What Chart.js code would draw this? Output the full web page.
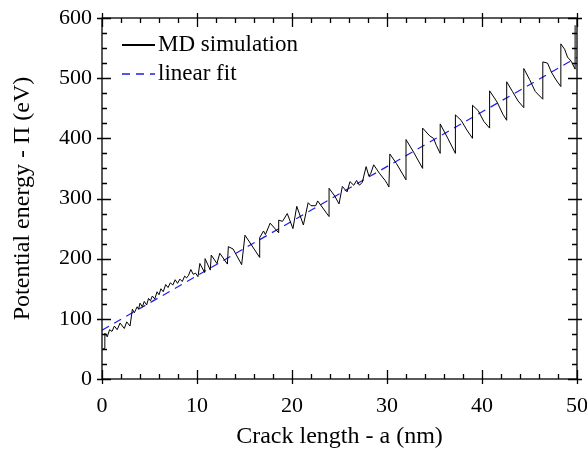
<!DOCTYPE html>
<html>
<head>
<meta charset="utf-8">
<script src="https://cdn.jsdelivr.net/npm/chart.js@4.4.0/dist/chart.umd.min.js"></script>
<style>
  html, body { margin: 0; padding: 0; background: #fff; }
</style>
</head>
<body>
<canvas id="chartEnergy" width="587" height="455"></canvas>
<script>
// MD simulation curve (nm / eV)
const crackLength = [
  0.1, 0.3, 0.3, 0.55, 0.8, 1.05, 1.3, 1.6, 1.9, 2.35,
  2.6, 2.95, 3.2, 3.4, 3.7, 3.85, 4.0, 4.25, 4.45, 4.7,
  4.9, 5.1, 5.3, 5.55, 5.8, 6.0, 6.2, 6.45, 6.7, 6.95,
  7.2, 7.45, 7.7, 7.95, 8.2, 8.45, 8.7, 8.9, 9.1, 9.35,
  9.6, 9.85, 10.1, 10.3, 10.8, 10.85, 11.4, 11.5, 12.1, 12.4,
  13.2, 13.3, 13.8, 14.7, 15.05, 16.6, 16.6, 17.0, 17.2, 17.7,
  18.6, 18.6, 19.0, 19.5, 20.1, 20.5, 21.2, 21.7, 22.0, 22.5,
  22.7, 23.9, 23.9, 24.5, 24.95, 25.3, 25.8, 26.1, 26.5, 26.8,
  27.1, 27.4, 27.8, 28.1, 28.3, 28.6, 29.2, 29.8, 30.0, 30.2,
  30.3, 31.0, 32.0, 32.0, 32.8, 33.75, 33.75, 34.5, 34.9, 35.2,
  35.6, 35.6, 36.4, 37.2, 37.2, 37.8, 38.4, 39.0, 39.0, 39.6,
  40.2, 40.8, 40.8, 41.6, 42.2, 42.6, 42.6, 43.2, 43.8, 44.4,
  44.4, 45.0, 45.6, 46.4, 46.4, 46.9, 47.3, 47.8, 48.3, 48.3,
  48.7, 49.0, 49.4, 49.8, 49.8
];
const mdEnergy = [
  50, 51, 76, 70, 82, 79, 88, 82, 93, 84,
  95, 88, 116, 110, 120, 116, 126, 120, 129, 123,
  134, 130, 138, 133, 145, 140, 150, 145, 157, 152,
  160, 156, 165, 159, 166, 162, 171, 168, 172, 182,
  174, 176, 170, 192, 177, 200, 181, 206, 192, 209,
  191, 220, 216, 190, 239, 202, 235, 246, 240, 259,
  243, 264, 262, 275, 250, 287, 256, 293, 288, 288,
  296, 270, 317, 304, 291, 320, 311, 328, 322, 330,
  322, 327, 353, 337, 342, 356, 342, 330, 325, 319,
  374, 358, 331, 398, 377, 350, 417, 404, 400, 388,
  375, 424, 400, 375, 439, 430, 414, 400, 455, 446,
  428, 417, 479, 460, 440, 430, 494, 478, 462, 451,
  516, 498, 478, 465, 527, 525, 510, 497, 486, 557,
  548, 535, 528, 515, 588
];

// linear fit end points
const fitLength = [0, 50];
const fitEnergy = [81, 534.5];

const xLimits = [0, 50];
const yLimits = [0, 600];

const serif = "'Liberation Serif', 'Times New Roman', serif";

// frame with ticks on all four sides
const frameTicks = {
  id: 'frameTicks',
  afterDraw(chart) {
    const { ctx, chartArea: a, scales: { x, y } } = chart;
    ctx.save();
    ctx.strokeStyle = '#000';
    ctx.lineWidth = 1.3;
    ctx.strokeRect(a.left, a.top, a.right - a.left, a.bottom - a.top);
    ctx.beginPath();
    for (let v = xLimits[0]; v <= xLimits[1]; v += 2) {
      const px = Math.round(x.getPixelForValue(v)) + 0.5;
      const major = v % 10 === 0;
      const inLen = major ? 9 : 5;
      const outLen = major ? 5 : 0;
      ctx.moveTo(px, a.bottom + outLen); ctx.lineTo(px, a.bottom - inLen);
      ctx.moveTo(px, a.top - outLen); ctx.lineTo(px, a.top + inLen);
    }
    for (let v = yLimits[0]; v <= yLimits[1]; v += 25) {
      const py = Math.round(y.getPixelForValue(v)) + 0.5;
      const major = v % 100 === 0;
      const inLen = major ? 9 : 5;
      const outLen = major ? 5 : 0;
      ctx.moveTo(a.left - outLen, py); ctx.lineTo(a.left + inLen, py);
      ctx.moveTo(a.right + outLen, py); ctx.lineTo(a.right - inLen, py);
    }
    ctx.stroke();
    ctx.restore();
  }
};

// legend drawn inside the plot, top left
const insideLegend = {
  id: 'insideLegend',
  afterDraw(chart) {
    const { ctx, chartArea: a } = chart;
    ctx.save();
    ctx.font = '23px ' + serif;
    ctx.textBaseline = 'middle';
    chart.data.datasets.forEach((ds, i) => {
      const yy = a.top + 27 + i * 29;
      const x0 = a.left + 20;
      ctx.strokeStyle = ds.borderColor;
      ctx.lineWidth = i === 0 ? 2 : 1.3;
      ctx.setLineDash(ds.borderDash || []);
      ctx.beginPath();
      ctx.moveTo(x0, yy);
      ctx.lineTo(x0 + 33, yy);
      ctx.stroke();
      ctx.setLineDash([]);
      ctx.fillStyle = '#000';
      ctx.fillText(ds.label, x0 + 36, yy);
    });
    ctx.restore();
  }
};

document.addEventListener("DOMContentLoaded", function(){
  const chartEnergy = document.getElementById("chartEnergy");

  new Chart(chartEnergy, {
    type: 'line',
    data: {
      datasets: [{
        label: 'MD simulation',
        data: crackLength.map((v, i) => ({ x: v, y: mdEnergy[i] })),
        borderColor: '#000',
        borderWidth: 1,
        pointRadius: 0,
        tension: 0,
        fill: false
      }, {
        label: 'linear fit',
        data: fitLength.map((v, i) => ({ x: v, y: fitEnergy[i] })),
        borderColor: 'rgb(30, 30, 235)',
        borderWidth: 1.2,
        borderDash: [8, 6],
        pointRadius: 0,
        fill: false
      }]
    },
    options: {
      responsive: false,
      animation: false,
      layout: {
        padding: { top: 18, right: 10, bottom: 0, left: 0 }
      },
      plugins: {
        legend: { display: false },
        tooltip: { enabled: false }
      },
      scales: {
        x: {
          type: 'linear',
          min: xLimits[0],
          max: xLimits[1],
          grid: { display: false, drawTicks: false },
          border: { display: false },
          ticks: {
            stepSize: 10,
            padding: 14,
            color: '#000',
            font: { family: serif, size: 22 }
          },
          title: {
            display: true,
            text: 'Crack length - a (nm)',
            color: '#000',
            font: { family: serif, size: 24 },
            padding: { top: 0, bottom: 4 }
          },
          afterFit: s => {
            s.height = 76;
            s.paddingLeft = 0;
            s.paddingRight = 0;
          }
        },
        y: {
          min: yLimits[0],
          max: yLimits[1],
          grid: { display: false, drawTicks: false },
          border: { display: false },
          ticks: {
            stepSize: 100,
            padding: 10,
            color: '#000',
            font: { family: serif, size: 22 }
          },
          title: {
            display: true,
            text: 'Potential energy - Π (eV)',
            color: '#000',
            font: { family: serif, size: 24 },
            padding: { top: 8, bottom: 0 }
          },
          afterFit: s => {
            s.width = 102;
            s.paddingTop = 0;
            s.paddingBottom = 0;
          }
        }
      }
    },
    plugins: [frameTicks, insideLegend]
  });
});
</script>
</body>
</html>
